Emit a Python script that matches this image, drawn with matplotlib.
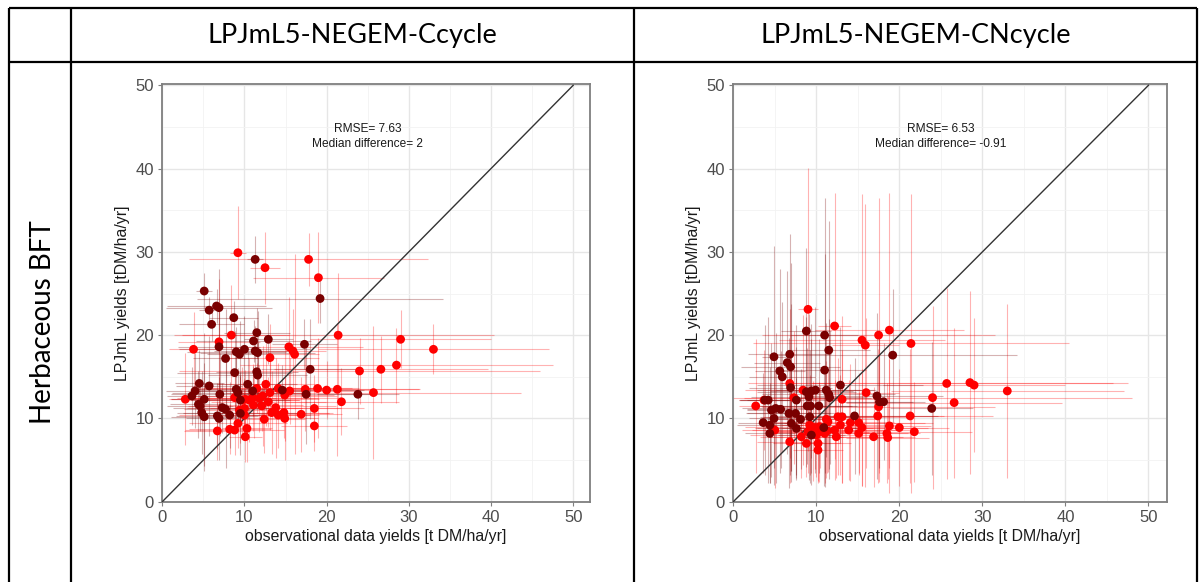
import matplotlib
matplotlib.use('Agg')
import matplotlib.pyplot as plt
from matplotlib.ticker import MultipleLocator

# --- data: LPJmL5-NEGEM-Ccycle ---
c_red_x = [9.2, 12.5, 17.8, 19.0, 2.8, 3.8, 6.9, 8.4, 21.4, 29.0, 33.0, 13.1, 15.4, 15.9, 16.1,
           24.0, 26.6, 28.5, 25.7, 21.8, 21.3, 20.0, 18.9, 17.4, 15.5, 14.1, 14.9, 12.6, 11.5, 13.1,
           12.9, 12.2, 11.8, 11.0, 10.6, 10.1, 9.7, 8.8, 11.1, 12.1, 13.8, 10.0, 9.4, 10.0, 13.3,
           14.1, 14.8, 14.9, 16.9, 18.5, 18.5, 12.4, 9.2, 6.7, 8.2, 8.8, 10.3, 10.1]
c_red_y = [29.9, 28.1, 29.1, 26.9, 12.3, 18.3, 19.2, 20.0, 20.0, 19.5, 18.3, 17.3, 18.6, 18.1, 17.7,
           15.7, 15.9, 16.4, 13.1, 12.0, 13.5, 13.4, 13.6, 13.5, 13.3, 13.6, 12.8, 14.1, 13.6, 13.1,
           12.0, 12.7, 12.4, 12.5, 12.2, 12.3, 12.2, 12.5, 11.6, 11.5, 11.3, 11.2, 11.0, 10.4, 10.7,
           10.4, 10.7, 10.0, 10.5, 11.2, 9.1, 9.9, 9.4, 8.5, 8.7, 8.6, 8.8, 7.8]
c_red_xerr = [1.0, 1.8, 14.5, 8.0, 2.0, 3.0, 5.0, 7.0, 19.0, 11.0, 14.0, 6.0, 9.0, 4.0, 3.0,
              22.0, 13.0, 19.0, 18.0, 7.0, 10.0, 6.0, 5.0, 14.0, 8.0, 9.0, 6.0, 6.0, 8.0, 4.0,
              7.0, 9.0, 10.0, 8.0, 6.0, 9.0, 7.0, 5.0, 6.0, 9.0, 8.0, 7.0, 5.0, 8.0, 7.0,
              5.0, 6.0, 4.0, 5.0, 6.0, 4.0, 5.0, 6.0, 4.0, 5.0, 6.0, 3.0, 2.0]
c_red_yerr = [5.6, 4.3, 3.2, 5.5, 5.5, 4.5, 7.5, 6.0, 7.5, 3.5, 3.0, 4.0, 6.0, 5.0, 12.0,
              4.0, 4.0, 4.5, 8.0, 4.0, 8.0, 3.5, 6.0, 5.0, 4.0, 3.0, 5.5, 5.0, 3.0, 4.5,
              3.0, 6.0, 4.0, 4.0, 5.0, 3.5, 4.0, 3.0, 4.0, 3.0, 6.0, 3.5, 4.0, 3.0, 5.0,
              4.0, 3.0, 5.0, 4.5, 4.0, 3.0, 4.0, 3.0, 3.5, 3.0, 3.0, 4.0, 3.0]
c_dark_x = [11.3, 5.1, 19.2, 5.7, 6.6, 6.9, 6.0, 8.7, 11.5, 12.9, 11.1, 6.9, 9.0, 9.4, 10.0, 11.3,
            11.6, 7.7, 17.3, 18.0, 8.8, 11.5, 11.6, 4.5, 5.7, 4.0, 3.6, 7.0, 9.0, 9.2, 10.4, 11.0,
            14.6, 17.5, 23.8, 5.1, 4.4, 4.6, 4.8, 5.1, 6.7, 6.9, 7.3, 7.7, 8.2, 9.5, 9.5]
c_dark_y = [29.1, 25.3, 24.4, 23.0, 23.5, 23.3, 21.3, 22.1, 20.3, 19.5, 19.3, 18.6, 18.0, 17.7, 18.3, 18.1,
            17.9, 17.2, 18.9, 15.9, 15.5, 15.6, 15.2, 14.2, 13.9, 13.3, 12.7, 12.9, 13.5, 13.1, 14.1, 13.3,
            13.4, 12.9, 12.9, 12.3, 11.7, 11.5, 10.7, 10.2, 10.3, 10.0, 11.3, 11.1, 10.4, 10.6, 12.2]
c_dark_xerr = [1.0, 1.0, 15.0, 1.2, 6.0, 6.5, 4.0, 3.0, 4.0, 3.0, 7.0, 5.0, 6.0, 4.0, 8.0, 5.0,
               7.0, 4.0, 4.0, 6.0, 7.0, 5.0, 6.0, 3.0, 4.0, 3.5, 3.0, 6.0, 5.0, 8.0, 6.0, 7.0,
               10.0, 8.0, 5.0, 4.0, 3.5, 4.0, 3.0, 4.0, 5.0, 4.0, 6.0, 5.0, 4.0, 7.0, 6.0]
c_dark_yerr = [2.8, 2.2, 3.0, 1.6, 2.0, 4.6, 2.0, 2.0, 3.0, 3.0, 2.5, 5.0, 3.0, 4.0, 4.0, 3.0,
               5.0, 6.0, 3.0, 6.0, 5.0, 4.0, 4.0, 4.0, 6.0, 4.5, 3.5, 5.0, 4.0, 3.0, 4.0, 3.0,
               3.0, 6.0, 3.0, 8.0, 4.0, 3.0, 5.0, 6.5, 4.0, 5.0, 3.0, 7.0, 4.0, 5.0, 3.0]

# --- data: LPJmL5-NEGEM-CNcycle ---
n_red_x = [9.0, 12.2, 15.5, 15.9, 17.5, 18.8, 21.4, 16.0, 25.7, 28.5, 29.0, 33.0, 24.0, 26.6,
           2.7, 13.1, 17.5, 17.4, 21.3, 21.8, 20.0, 18.8, 18.5, 18.6, 16.9, 15.5, 15.1, 15.1,
           14.1, 13.9, 13.1, 12.9, 12.6, 12.2, 12.4, 11.2, 11.4, 11.3, 11.0, 10.4, 10.3, 9.8,
           9.6, 10.0, 10.2, 10.2, 9.2, 9.0, 8.8, 8.2, 6.8, 6.8, 7.3, 8.4, 5.0, 3.7]
n_red_y = [23.1, 21.1, 19.4, 18.8, 20.0, 20.6, 19.0, 13.1, 14.2, 14.3, 14.0, 13.3, 12.5, 11.9,
           11.5, 12.3, 11.4, 10.3, 10.3, 8.4, 8.9, 9.1, 8.2, 7.7, 7.8, 8.9, 9.5, 8.2,
           9.5, 8.6, 10.2, 9.2, 10.2, 8.6, 7.8, 9.9, 9.6, 8.5, 8.2, 9.0, 8.4, 8.9,
           8.5, 8.0, 7.0, 6.2, 9.2, 8.4, 7.0, 7.8, 7.2, 14.2, 12.5, 13.4, 8.6, 12.2]
n_red_xerr = [1.2, 2.0, 10.0, 4.0, 14.0, 9.0, 19.0, 4.0, 20.0, 19.0, 11.0, 14.0, 24.0, 13.0,
              2.0, 4.0, 14.0, 8.0, 10.0, 7.0, 6.0, 5.0, 4.0, 5.0, 5.0, 8.0, 9.0, 6.0,
              9.0, 6.0, 4.0, 7.0, 9.0, 10.0, 8.0, 6.0, 8.0, 7.0, 6.0, 9.0, 6.0, 7.0,
              5.0, 8.0, 4.0, 3.0, 6.0, 5.0, 4.0, 5.0, 4.0, 5.0, 6.0, 7.0, 4.0, 3.0]
n_red_yerr = [17.0, 16.0, 17.5, 17.0, 16.5, 16.5, 18.0, 9.0, 11.5, 11.0, 8.0, 10.5, 11.0, 9.0,
              8.0, 10.0, 9.0, 8.0, 8.0, 6.0, 7.0, 8.0, 6.0, 5.0, 6.0, 7.0, 6.0, 5.0,
              7.0, 6.0, 8.0, 6.0, 7.0, 6.0, 5.0, 7.0, 6.0, 5.0, 6.0, 5.0, 6.0, 5.0,
              6.0, 5.0, 4.5, 4.0, 6.0, 5.0, 4.0, 5.0, 5.0, 9.0, 8.0, 9.0, 7.0, 6.0]
n_dark_x = [8.8, 11.0, 11.5, 19.2, 4.9, 6.8, 6.5, 6.9, 5.6, 5.9, 11.0, 12.9, 6.9, 8.8, 9.4, 9.9,
            11.2, 11.5, 11.6, 17.3, 17.6, 18.1, 23.9, 14.6, 3.8, 4.2, 4.6, 5.1, 5.7, 4.9, 3.6,
            4.4, 4.4, 6.7, 7.5, 7.0, 7.6, 7.6, 9.1, 9.3, 8.9, 10.3, 8.1, 9.2, 10.9, 9.4]
n_dark_y = [20.5, 20.0, 18.2, 17.6, 17.4, 17.7, 16.7, 16.2, 15.7, 15.0, 15.8, 14.0, 13.7, 13.2, 13.3, 13.4,
            13.4, 12.9, 12.5, 12.7, 12.0, 12.0, 11.2, 10.3, 12.2, 12.2, 11.0, 11.2, 11.1, 10.0, 9.5,
            9.2, 8.2, 10.6, 10.6, 9.4, 8.8, 12.2, 12.6, 11.5, 11.5, 11.5, 9.9, 10.2, 8.9, 8.0]
n_dark_xerr = [3.0, 4.0, 5.0, 15.0, 1.5, 5.0, 4.0, 6.0, 3.0, 4.0, 5.0, 10.0, 5.0, 6.0, 5.0, 7.0,
               6.0, 8.0, 5.0, 8.0, 4.0, 5.0, 5.0, 10.0, 3.0, 3.5, 3.0, 4.0, 4.0, 3.0, 3.0,
               4.0, 3.0, 5.0, 6.0, 4.0, 5.0, 6.0, 7.0, 5.0, 6.0, 7.0, 4.0, 6.0, 5.0, 4.0]
n_dark_yerr = [10.0, 16.5, 15.5, 8.0, 13.3, 14.5, 11.0, 12.5, 12.3, 9.0, 14.0, 7.0, 10.0, 9.0, 8.0, 10.0,
               8.0, 9.0, 8.0, 10.0, 8.0, 7.0, 8.0, 7.0, 9.0, 10.0, 8.0, 9.0, 7.0, 8.0, 6.0,
               7.0, 6.0, 9.0, 8.0, 7.0, 6.0, 9.0, 10.0, 8.0, 7.0, 8.0, 6.0, 8.0, 7.0, 6.0]

headers = ['LPJmL5-NEGEM-Ccycle', 'LPJmL5-NEGEM-CNcycle']
row_label = 'Herbaceous BFT'
stats = ['RMSE= 7.63\nMedian difference= 2', 'RMSE= 6.53\nMedian difference= -0.91']

RED = '#ff0000'
DARK = '#7a0000'
W, H = 1200, 582

fig = plt.figure(figsize=(W / 100, H / 100), dpi=100)
plt.rcParams['font.family'] = ['Liberation Sans', 'DejaVu Sans']


def box(px_left, px_top, px_right, px_bottom):
    # pixel box -> figure fraction rect
    return [px_left / W, 1 - px_bottom / H, (px_right - px_left) / W, (px_bottom - px_top) / H]


# table frame drawn in pixel coordinates
frame = fig.add_axes([0, 0, 1, 1], zorder=0)
frame.set_xlim(0, W)
frame.set_ylim(H, 0)
frame.axis('off')
for yy in (8, 62):
    frame.plot([9, 1197], [yy, yy], color='black', lw=1.6, solid_capstyle='butt')
for xx in (9, 71, 634, 1197):
    frame.plot([xx, xx], [8, H], color='black', lw=1.6, solid_capstyle='butt')
frame.text(352, 36, headers[0], ha='center', va='center', fontsize=19.5, family=['Lato', 'DejaVu Sans'])
frame.text(916, 36, headers[1], ha='center', va='center', fontsize=19.5, family=['Lato', 'DejaVu Sans'])
frame.text(43, 322, row_label, ha='center', va='center', rotation=90, fontsize=20,
           family=['Lato', 'DejaVu Sans'])

panels = [
    (box(162.3, 84.5, 590, 501.7), 52.05, c_red_x, c_red_y, c_red_xerr, c_red_yerr,
     c_dark_x, c_dark_y, c_dark_xerr, c_dark_yerr, stats[0]),
    (box(733.3, 84.5, 1166.7, 501.7), 52.2, n_red_x, n_red_y, n_red_xerr, n_red_yerr,
     n_dark_x, n_dark_y, n_dark_xerr, n_dark_yerr, stats[1]),
]

for rect, xmax, rx, ry, rxe, rye, dx, dy, dxe, dye, txt in panels:
    ax = fig.add_axes(rect, zorder=1)
    ax.set_xlim(0, xmax)
    ax.set_ylim(0, 50.1)
    ax.xaxis.set_major_locator(MultipleLocator(10))
    ax.yaxis.set_major_locator(MultipleLocator(10))
    ax.xaxis.set_minor_locator(MultipleLocator(5))
    ax.yaxis.set_minor_locator(MultipleLocator(5))
    ax.grid(which='major', color='#e6e6e6', lw=1.0, zorder=0)
    ax.grid(which='minor', color='#f2f2f2', lw=0.6, zorder=0)
    ax.set_axisbelow(True)

    ax.errorbar(rx, ry, xerr=rxe, yerr=rye, fmt='none', ecolor=RED, elinewidth=0.8,
                alpha=0.3, zorder=2)
    ax.errorbar(dx, dy, xerr=dxe, yerr=dye, fmt='none', ecolor=DARK, elinewidth=0.8,
                alpha=0.3, zorder=2)
    ax.plot([0, 50], [0, 50], color='#333333', lw=1.0, zorder=3)
    ax.scatter(rx, ry, s=40, color=RED, edgecolors='none', zorder=4)
    ax.scatter(dx, dy, s=40, color=DARK, edgecolors='none', zorder=5)

    ax.text(25, 43.9, txt, ha='center', va='center', fontsize=8.6, color='#1a1a1a',
            linespacing=1.35)

    for s in ax.spines.values():
        s.set_color('#7f7f7f')
        s.set_linewidth(1.3)
    ax.tick_params(which='major', length=3, color='#7f7f7f', labelcolor='#4d4d4d',
                   labelsize=12, pad=3)
    ax.tick_params(which='minor', length=0)
    ax.set_xlabel('observational data yields [t DM/ha/yr]', fontsize=11.4, color='#1a1a1a',
                  labelpad=3)
    ax.set_ylabel('LPJmL yields [tDM/ha/yr]', fontsize=11.4, color='#1a1a1a', labelpad=4)

fig.savefig('out.png', dpi=100)
